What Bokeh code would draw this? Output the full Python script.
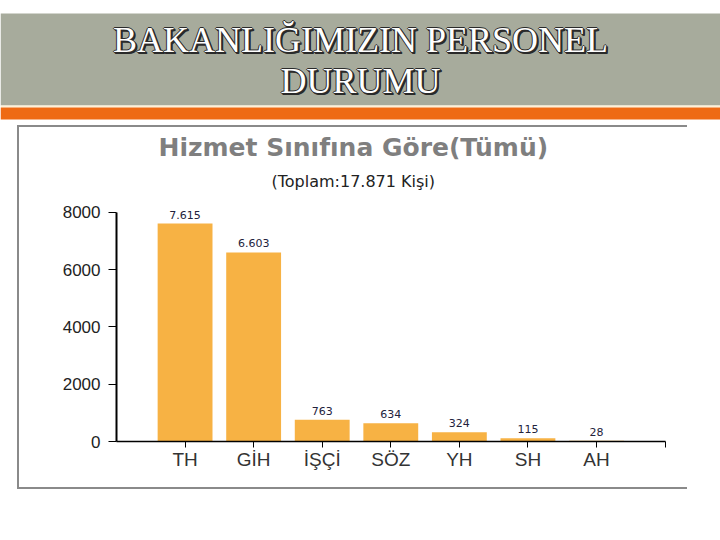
from bokeh.plotting import figure
from bokeh.layouts import column
from bokeh.models import Range1d, FixedTicker, Title, ColumnDataSource
from bokeh.core.properties import value
from bokeh.embed import file_html
from bokeh.resources import INLINE

# chart data
categories = ["TH", "GİH", "İŞÇİ", "SÖZ", "YH", "SH", "AH"]
counts = [7615, 6603, 763, 634, 324, 115, 28]
y_ticks = [0, 2000, 4000, 6000, 8000]

slide_title = ["BAKANLIĞIMIZIN PERSONEL", "DURUMU"]
chart_title = "Hizmet Sınıfına Göre(Tümü)"
chart_subtitle = "(Toplam:17.871 Kişi)"

HEADER_GRAY = "#a7ab9c"
HEADER_CREAM = "#fff1d6"
HEADER_ORANGE = "#ee6a14"
BAR_COLOR = "#f7b244"
BOX_GRAY = "#8a8a8a"

# ---- slide header ----
head = figure(width=720, height=125, x_range=Range1d(0, 720), y_range=Range1d(125, 0),
              output_backend="svg", toolbar_location=None, min_border=0, frame_align=False)
head.axis.visible = False
head.grid.visible = False
head.outline_line_color = None

head.quad(left=[0, 0, 0], right=[720, 720, 720], top=[13, 105, 107], bottom=[105, 107, 119],
          fill_color=[HEADER_GRAY, HEADER_CREAM, HEADER_ORANGE], line_color=None)

# y positions tuned so the caps sit where the slide has them
title_src = ColumnDataSource(dict(x=[360, 360], y=[39, 80], text=slide_title))
for dx, dy in [(-1, 0), (1, 0), (0, -1), (0, 1), (2, 2), (1, 2), (2, 1)]:
    head.text(x="x", y="y", text="text", source=title_src, x_offset=dx, y_offset=dy,
              text_font=value("Liberation Serif"), text_font_size="36px",
              text_color="#2a2a2a", text_align="center", text_baseline="alphabetic")
head.text(x="x", y="y", text="text", source=title_src,
          text_font=value("Liberation Serif"), text_font_size="36px",
          text_color="white", text_align="center", text_baseline="alphabetic")

# ---- bar chart ----
xs = list(range(1, len(categories) + 1))
labels = [f"{v:,}".replace(",", ".") for v in counts]
src = ColumnDataSource(dict(x=xs, top=counts, label=labels))

p = figure(width=670, height=364, x_range=Range1d(0, 8.05), y_range=Range1d(0, 8419),
           output_backend="svg", toolbar_location=None, frame_align=False,
           min_border_left=97, min_border_right=21, min_border_top=73, min_border_bottom=50)
p.margin = (0, 0, 0, 17)
p.styles = {"border-top": f"2px solid {BOX_GRAY}", "border-left": f"2px solid {BOX_GRAY}",
            "border-bottom": f"2px solid {BOX_GRAY}"}
p.grid.visible = False
p.outline_line_color = None

p.add_layout(Title(text=chart_subtitle, align="left", offset=155, standoff=20,
                   text_font="DejaVu Sans", text_font_size="16px",
                   text_font_style="normal", text_color="#222222"), "above")
p.add_layout(Title(text=chart_title, align="left", offset=42, standoff=-4,
                   text_font="DejaVu Sans", text_font_size="25px",
                   text_font_style="bold", text_color="#7f7f7f"), "above")

p.vbar(x="x", top="top", width=0.8, source=src, fill_color=BAR_COLOR, line_color=None)
p.text(x="x", y="top", text="label", source=src, y_offset=-5,
       text_font=value("DejaVu Sans"), text_font_size="11px", text_color="#22223c",
       text_align="center", text_baseline="bottom")

p.yaxis.ticker = FixedTicker(ticks=y_ticks)
p.yaxis.bounds = (0, 8000)
p.yaxis.axis_line_width = 2
p.yaxis.major_tick_out = 8
p.yaxis.major_tick_in = 0
p.yaxis.minor_tick_line_color = None
p.yaxis.major_label_text_font = "Liberation Sans"
p.yaxis.major_label_text_font_size = "17px"
p.yaxis.major_label_text_color = "#222222"
p.yaxis.major_label_standoff = 8

p.xaxis.ticker = FixedTicker(ticks=xs + [8])
p.xaxis.major_label_overrides = {**{x: c for x, c in zip(xs, categories)}, 8: ""}
p.xaxis.bounds = (0, 8)
p.xaxis.axis_line_width = 1.5
p.xaxis.major_tick_out = 6
p.xaxis.major_tick_in = 0
p.xaxis.minor_tick_line_color = None
p.xaxis.major_label_text_font = "Liberation Sans"
p.xaxis.major_label_text_font_size = "19px"
p.xaxis.major_label_text_color = "#333333"
p.xaxis.major_label_standoff = 1

layout = column(head, p, spacing=0)
open("out.html", "w").write(file_html(layout, INLINE))
